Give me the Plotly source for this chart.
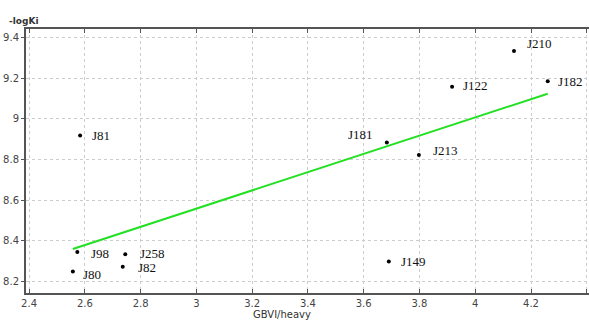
import plotly.graph_objects as go

# Data
compounds = ["J81", "J98", "J80", "J82", "J258", "J149", "J181", "J213", "J122", "J210", "J182"]
gbvi_heavy = [2.583, 2.573, 2.557, 2.736, 2.745, 3.690, 3.683, 3.798, 3.917, 4.139, 4.260]
neg_log_ki = [8.918, 8.345, 8.250, 8.273, 8.334, 8.299, 8.884, 8.822, 9.157, 9.333, 9.184]

fit_x = [2.557, 4.260]
fit_y = [8.360, 9.123]

x_ticks = [2.4, 2.6, 2.8, 3.0, 3.2, 3.4, 3.6, 3.8, 4.0, 4.2, 4.4]
x_tick_labels = ["2.4", "2.6", "2.8", "3", "3.2", "3.4", "3.6", "3.8", "4", "4.2", "4.4"]
y_ticks = [8.2, 8.4, 8.6, 8.8, 9.0, 9.2, 9.4]
y_tick_labels = ["8.2", "8.4", "8.6", "8.8", "9", "9.2", "9.4"]

# label offsets in pixels (layout only)
label_offsets = {
    "J81": (10, 0, "left"), "J98": (12, -1, "left"), "J80": (8, -3, "left"),
    "J82": (13, -1, "left"), "J258": (13, 1, "left"), "J149": (10, 0, "left"),
    "J181": (-12, 8, "right"), "J213": (12, 5, "left"), "J122": (9, 1, "left"),
    "J210": (11, 7, "left"), "J182": (8, 0, "left"),
}

fig = go.Figure()
fig.add_trace(go.Scatter(x=fit_x, y=fit_y, mode="lines",
                         line=dict(color="#22e022", width=2), hoverinfo="skip"))
fig.add_trace(go.Scatter(x=gbvi_heavy, y=neg_log_ki, mode="markers",
                         marker=dict(color="black", size=4)))

for name, xv, yv in zip(compounds, gbvi_heavy, neg_log_ki):
    dx, dy, anchor = label_offsets[name]
    fig.add_annotation(x=xv, y=yv, text=name, showarrow=False,
                       xanchor=anchor, yanchor="middle", xshift=dx, yshift=dy,
                       font=dict(family="Liberation Serif", size=13, color="#111"))

fig.add_annotation(x=0.455, y=-0.052, xref="paper", yref="paper", text="GBVI/heavy",
                   showarrow=False, xanchor="center", yanchor="top",
                   font=dict(family="DejaVu Sans", size=10, color="#333"))
fig.add_annotation(x=-0.033, y=1.03, xref="paper", yref="paper", text="<b>-logKi</b>",
                   showarrow=False, xanchor="left", yanchor="middle",
                   font=dict(family="DejaVu Sans", size=9, color="#333"))

fig.update_layout(
    width=589, height=323,
    margin=dict(l=26, r=0, t=29, b=30, autoexpand=False),
    plot_bgcolor="white", paper_bgcolor="white",
    showlegend=False,
    xaxis=dict(range=[2.389, 4.408], tickvals=x_ticks, ticktext=x_tick_labels,
               showgrid=True, gridcolor="#cccccc", griddash="dot", gridwidth=1,
               showline=True, linecolor="#555", linewidth=2, mirror="ticks",
               ticks="inside", ticklen=4, tickcolor="#555", zeroline=False,
               automargin=False,
               tickfont=dict(family="DejaVu Sans", size=10, color="#444")),
    yaxis=dict(range=[8.144, 9.441], tickvals=y_ticks, ticktext=y_tick_labels,
               showgrid=True, gridcolor="#cccccc", griddash="dot", gridwidth=1,
               showline=True, linecolor="#555", linewidth=2,
               ticks="outside", ticklen=3, tickcolor="#555", zeroline=False,
               automargin=False,
               tickfont=dict(family="DejaVu Sans", size=10, color="#444")),
)

fig.write_html("out.html", post_script="document.body.style.margin='0';",
               config={"displayModeBar": False})
